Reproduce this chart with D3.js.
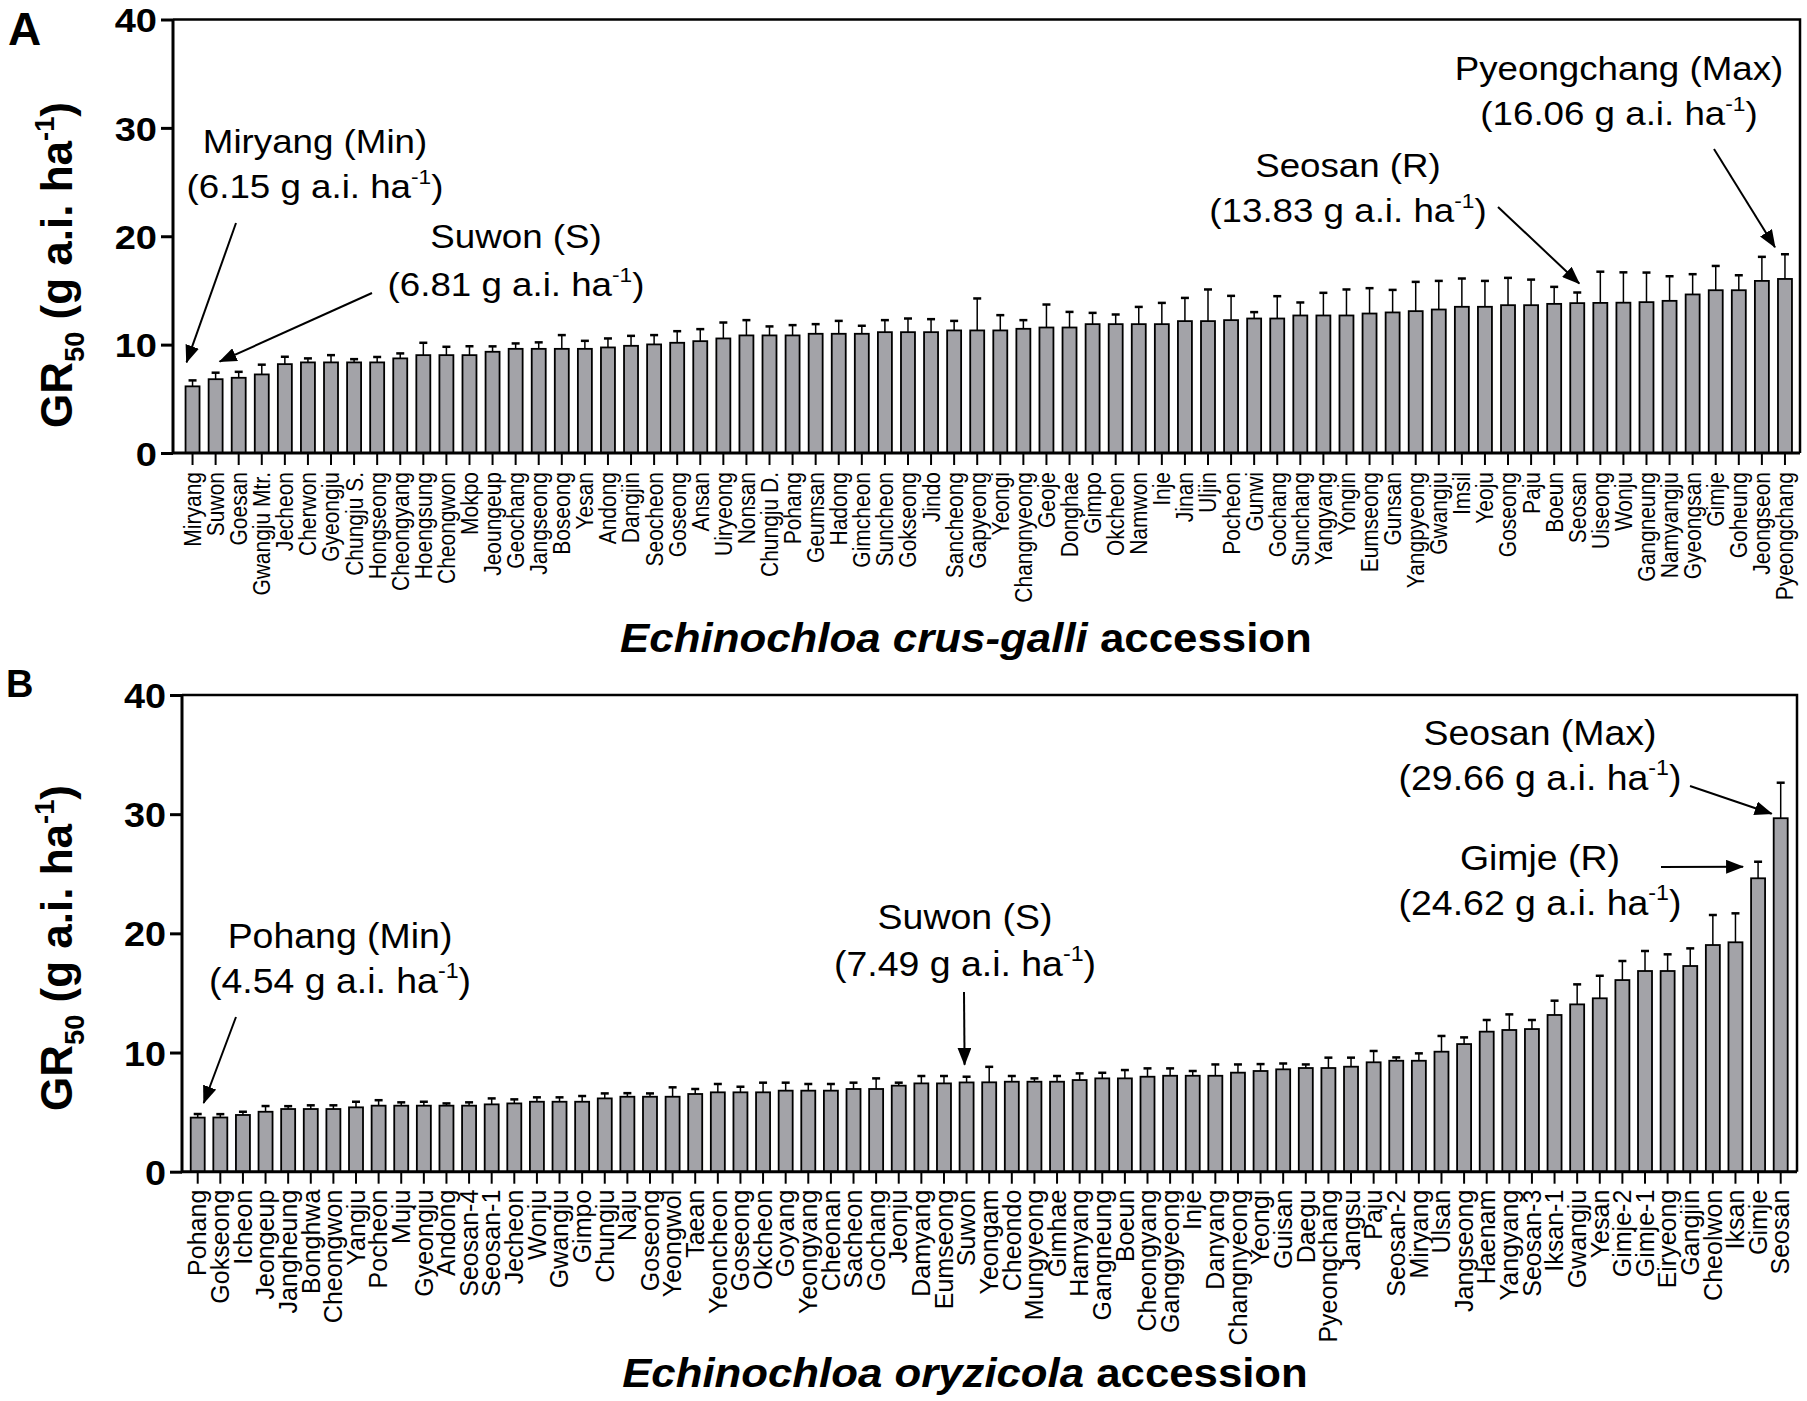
<!DOCTYPE html>
<html>
<head>
<meta charset="utf-8">
<script src="https://cdn.jsdelivr.net/npm/d3@7"></script>
<style>
  body { margin: 0; background: #fff; }
  text { font-family: "Liberation Sans", Arial, Helvetica, sans-serif; fill: #000; }
</style>
</head>
<body>
<svg id="chart" width="1807" height="1401"></svg>
<script>
// ---- data ----
var labelsA = ["Miryang","Suwon","Goesan","Gwangju Mtr.","Jecheon","Cherwon","Gyeongju","Chungju S.","Hongseong","Cheongyang",
  "Hoengsung","Cheongwon","Mokpo","Jeoungeup","Geochang","Jangseong","Boseong","Yesan","Andong","Dangjin",
  "Seocheon","Goseong","Ansan","Uiryeong","Nonsan","Chungju D.","Pohang","Geumsan","Hadong","Gimcheon",
  "Suncheon","Gokseong","Jindo","Sancheong","Gapyeong","Yeongi","Changnyeong","Geoje","Donghae","Gimpo",
  "Okcheon","Namwon","Inje","Jinan","Uljin","Pocheon","Gunwi","Gochang","Sunchang","Yangyang",
  "Yongin","Eumseong","Gunsan","Yangpyeong","Gwangju","Imsil","Yeoju","Goseong","Paju","Boeun",
  "Seosan","Uiseong","Wonju","Gangneung","Namyangju","Gyeongsan","Gimje","Goheung","Jeongseon","Pyeongchang"];
var valuesA = [6.15,6.81,6.94,7.25,8.20,8.36,8.36,8.36,8.36,8.73,
  9.03,9.03,9.03,9.34,9.61,9.61,9.61,9.61,9.74,9.89,
  10.02,10.17,10.32,10.57,10.85,10.85,10.85,11.00,11.00,11.00,
  11.15,11.15,11.15,11.31,11.31,11.31,11.46,11.58,11.58,11.89,
  11.89,11.89,11.89,12.17,12.17,12.26,12.41,12.41,12.69,12.69,
  12.69,12.87,12.97,13.09,13.24,13.49,13.49,13.64,13.64,13.76,
  13.83,13.85,13.87,13.92,14.04,14.63,15.02,15.02,15.88,16.06];
var errorsA = [0.55,0.60,0.55,0.90,0.68,0.37,0.67,0.30,0.50,0.46,
  1.14,0.77,0.82,0.50,0.50,0.60,1.27,0.74,0.83,0.92,
  0.86,1.07,1.11,1.47,1.41,0.83,0.95,0.89,1.19,0.74,
  1.11,1.26,1.20,0.88,2.95,1.41,0.80,2.12,1.44,1.04,
  0.89,1.59,1.96,2.14,2.92,2.24,0.59,2.06,1.20,2.09,
  2.40,2.34,2.08,2.70,2.64,2.61,2.39,2.52,2.36,1.57,
  0.98,2.88,2.80,2.73,2.27,1.87,2.24,1.38,2.22,2.28];

var labelsB = ["Pohang","Gokseong","Icheon","Jeongeup","Jangheung","Bonghwa","Cheongwon","Yangju","Pocheon","Muju",
  "Gyeongju","Andong","Seosan-4","Seosan-1","Jecheon","Wonju","Gwangju","Gimpo","Chungju","Naju",
  "Goseong","Yeongwol","Taean","Yeoncheon","Goseong","Okcheon","Goyang","Yeongyang","Cheonan","Sacheon",
  "Gochang","Jeonju","Damyang","Eumseong","Suwon","Yeongam","Cheondo","Mungyeong","Gimhae","Hamyang",
  "Gangneung","Boeun","Cheongyang","Ganggyeong","Inje","Danyang","Changnyeong","Yeongi","Guisan","Daegu",
  "Pyeongchang","Jangsu","Paju","Seosan-2","Miryang","Ulsan","Jangseong","Haenam","Yangyang","Seosan-3",
  "Iksan-1","Gwangju","Yesan","Gimje-2","Gimje-1","Eiryeong","Gangjin","Cheolwon","Iksan","Gimje",
  "Seosan"];
var valuesB = [4.54,4.55,4.76,5.03,5.26,5.26,5.26,5.40,5.54,5.54,
  5.54,5.54,5.54,5.65,5.73,5.87,5.87,5.87,6.15,6.29,
  6.29,6.29,6.52,6.66,6.66,6.66,6.80,6.80,6.80,6.94,
  6.94,7.22,7.41,7.41,7.49,7.50,7.55,7.55,7.55,7.69,
  7.83,7.83,7.97,8.05,8.05,8.05,8.31,8.45,8.59,8.70,
  8.70,8.81,9.18,9.31,9.31,10.07,10.71,11.75,11.89,11.97,
  13.15,14.04,14.55,16.08,16.84,16.84,17.26,19.02,19.25,24.62,
  29.66];
var errorsB = [0.30,0.28,0.27,0.48,0.24,0.31,0.31,0.47,0.46,0.28,
  0.33,0.19,0.28,0.50,0.34,0.37,0.37,0.48,0.42,0.30,
  0.28,0.79,0.42,0.70,0.47,0.81,0.67,0.56,0.56,0.53,
  0.89,0.25,0.62,0.62,0.48,1.30,0.48,0.28,0.48,0.56,
  0.47,0.70,0.70,0.62,0.40,0.95,0.69,0.58,0.49,0.30,
  0.87,0.76,0.95,0.28,0.62,1.32,0.56,0.98,1.31,0.76,
  1.20,1.68,1.89,1.60,1.68,1.40,1.48,2.52,2.43,1.39,
  2.98];

var yTicks = [0, 10, 20, 30, 40];

// annotated accessions: bar index, caption, GR50 value
var notesA = [
  {idx: 0,  title: "Miryang (Min)",     value: "6.15"},
  {idx: 1,  title: "Suwon (S)",         value: "6.81"},
  {idx: 60, title: "Seosan (R)",        value: "13.83"},
  {idx: 69, title: "Pyeongchang (Max)", value: "16.06"}
];
var notesB = [
  {idx: 0,  title: "Pohang (Min)", value: "4.54"},
  {idx: 34, title: "Suwon (S)",    value: "7.49"},
  {idx: 70, title: "Seosan (Max)", value: "29.66"},
  {idx: 69, title: "Gimje (R)",    value: "24.62"}
];

// ---- layout ----
var svg = d3.select("#chart");
var barFill = "#a3a3a8";

var defs = svg.append("defs");
defs.append("marker")
    .attr("id", "head")
    .attr("markerUnits", "userSpaceOnUse")
    .attr("viewBox", "0 0 18 14")
    .attr("markerWidth", 18).attr("markerHeight", 14)
    .attr("refX", 17).attr("refY", 7)
    .attr("orient", "auto")
  .append("path")
    .attr("d", "M0,0 L18,7 L0,14 Z")
    .attr("fill", "#000");

var panelA = {
  letter: "A", letterX: 8, letterY: 45, letterSize: 46,
  left: 173, right: 1800, top: 19.5, bottom: 453,
  bandL: 181, bandR: 1796.5, pad: 0.394,
  tickFont: 34, tickK: 1.12, labelFont: 21, labelK: 1.15, labelGap: 19,
  yTitleX: 72, yTitleY: 265,
  species: "Echinochloa crus-galli", xTitleX: 966, xTitleY: 652, xTitleW: 692,
  noteFont: 34, noteK: 1.08,
  // caption centre, two baselines, arrow start and tip offset from the error bar top
  place: [
    {cx: 315,  b1: 153, b2: 198, from: [236, 223],  tip: [-6, -18]},
    {cx: 516,  b1: 248, b2: 296, from: [372, 293],  tip: [4, -11]},
    {cx: 1348, b1: 177, b2: 222, from: [1498, 207], tip: [2, -9]},
    {cx: 1619, b1: 80,  b2: 125, from: [1714, 149], tip: [-10, -7]}
  ]
};
var panelB = {
  letter: "B", letterX: 6, letterY: 697, letterSize: 38,
  left: 182, right: 1797, top: 695, bottom: 1171.7,
  bandL: 186.4, bandR: 1792, pad: 0.381,
  tickFont: 35, tickK: 1.08, labelFont: 25, labelK: 1, labelGap: 18,
  yTitleX: 72, yTitleY: 948,
  species: "Echinochloa oryzicola", xTitleX: 965, xTitleY: 1387, xTitleW: 686,
  noteFont: 35, noteK: 1.07,
  place: [
    {cx: 340,  b1: 948, b2: 993, from: [236, 1017],  tip: [6, -11]},
    {cx: 965,  b1: 929, b2: 976, from: [964, 992],   tip: [-2, -12]},
    {cx: 1540, b1: 745, b2: 790, from: [1690, 786],  tip: [-9, 31]},
    {cx: 1540, b1: 870, b2: 915, from: [1661, 867],  tip: [-15, 5]}
  ]
};

function drawPanel(cfg, labels, values, errors, notes) {
  var g = svg.append("g");
  var idx = d3.range(labels.length);

  var x = d3.scaleBand()
      .domain(idx)
      .range([cfg.bandL, cfg.bandR])
      .paddingInner(cfg.pad)
      .paddingOuter(cfg.pad / 2);
  var y = d3.scaleLinear()
      .domain([0, 40])
      .range([cfg.bottom, cfg.top]);
  var bw = x.bandwidth();
  var xc = function(i) { return x(i) + bw / 2; };

  // bars
  g.append("g").selectAll("rect")
      .data(idx)
      .enter().append("rect")
      .attr("x", function(i) { return x(i); })
      .attr("y", function(i) { return y(values[i]); })
      .attr("width", bw)
      .attr("height", function(i) { return y(0) - y(values[i]); })
      .attr("fill", barFill)
      .attr("stroke", "#000")
      .attr("stroke-width", 1.8);

  // upper error bars
  var eb = g.append("g").attr("stroke", "#000");
  eb.selectAll(".stem")
      .data(idx)
      .enter().append("line")
      .attr("x1", xc).attr("x2", xc)
      .attr("y1", function(i) { return y(values[i]); })
      .attr("y2", function(i) { return y(values[i] + errors[i]); })
      .attr("stroke-width", 1.5);
  eb.selectAll(".cap")
      .data(idx)
      .enter().append("line")
      .attr("x1", function(i) { return xc(i) - 4; })
      .attr("x2", function(i) { return xc(i) + 4; })
      .attr("y1", function(i) { return y(values[i] + errors[i]); })
      .attr("y2", function(i) { return y(values[i] + errors[i]); })
      .attr("stroke-width", 2.5);

  // frame top and right
  g.append("path")
      .attr("d", "M" + cfg.left + "," + cfg.top + "H" + cfg.right + "V" + cfg.bottom)
      .attr("fill", "none")
      .attr("stroke", "#000")
      .attr("stroke-width", 2.5);

  // y axis
  var yAxis = g.append("g")
      .attr("transform", "translate(" + cfg.left + ",0)")
      .call(d3.axisLeft(y).tickValues(yTicks).tickSize(12).tickSizeOuter(0));
  yAxis.select(".domain").remove();
  yAxis.selectAll(".tick line").attr("stroke-width", 3);
  yAxis.selectAll(".tick text")
      .attr("x", null)
      .attr("dy", "0.36em")
      .attr("text-anchor", "end")
      .attr("transform", "translate(-16,0) scale(" + cfg.tickK + ",1)")
      .style("font-size", cfg.tickFont + "px")
      .style("font-weight", "bold");

  // x axis
  var xAxis = g.append("g")
      .attr("transform", "translate(0," + cfg.bottom + ")")
      .call(d3.axisBottom(x).tickSize(12).tickSizeOuter(0)
        .tickFormat(function(i) { return labels[i]; }));
  xAxis.select(".domain").remove();
  xAxis.selectAll(".tick line").attr("stroke-width", 2);
  xAxis.selectAll(".tick text")
      .attr("x", null).attr("y", null)
      .attr("dy", "0.35em")
      .attr("text-anchor", "end")
      .attr("transform", "translate(0," + cfg.labelGap + ") rotate(-90) scale(1," + cfg.labelK + ")")
      .style("font-size", cfg.labelFont + "px");

  // axis lines
  g.append("path")
      .attr("d", "M" + cfg.left + "," + cfg.top + "V" + cfg.bottom + "H" + cfg.right)
      .attr("fill", "none")
      .attr("stroke", "#000")
      .attr("stroke-width", 3);

  // panel letter
  g.append("text")
      .attr("x", cfg.letterX).attr("y", cfg.letterY)
      .style("font-size", cfg.letterSize + "px")
      .style("font-weight", "bold")
      .text(cfg.letter);

  // y title
  var fs = 44;
  var yt = g.append("text")
      .attr("transform", "translate(" + cfg.yTitleX + "," + cfg.yTitleY + ") rotate(-90)")
      .attr("text-anchor", "middle")
      .style("font-size", fs + "px")
      .style("font-weight", "bold");
  yt.append("tspan").text("GR");
  yt.append("tspan").attr("dy", 0.28 * fs).style("font-size", (0.62 * fs) + "px").text("50");
  yt.append("tspan").attr("dy", -0.28 * fs).text(" (g a.i. ha");
  yt.append("tspan").attr("dy", -0.42 * fs).style("font-size", (0.62 * fs) + "px").text("-1");
  yt.append("tspan").attr("dy", 0.42 * fs).text(")");

  // x title, stretched to the figure's width
  var xt = g.append("text")
      .attr("text-anchor", "middle")
      .style("font-size", "40px")
      .style("font-weight", "bold");
  xt.append("tspan").style("font-style", "italic").text(cfg.species);
  xt.append("tspan").text(" accession");
  var len = xt.node().getComputedTextLength();
  xt.attr("transform", "translate(" + cfg.xTitleX + "," + cfg.xTitleY + ") scale(" + (cfg.xTitleW / len) + ",1)");

  // annotations with arrows
  notes.forEach(function(n, k) {
    var p = cfg.place[k];
    var f = cfg.noteFont;
    g.append("text")
        .attr("text-anchor", "middle")
        .attr("transform", "translate(" + p.cx + "," + p.b1 + ") scale(" + cfg.noteK + ",1)")
        .style("font-size", f + "px")
        .text(n.title);
    var t2 = g.append("text")
        .attr("text-anchor", "middle")
        .attr("transform", "translate(" + p.cx + "," + p.b2 + ") scale(" + cfg.noteK + ",1)")
        .style("font-size", f + "px");
    t2.append("tspan").text("(" + n.value + " g a.i. ha");
    t2.append("tspan").attr("dy", -0.42 * f).style("font-size", (0.62 * f) + "px").text("-1");
    t2.append("tspan").attr("dy", 0.42 * f).text(")");

    var tx = xc(n.idx) + p.tip[0];
    var ty = y(values[n.idx] + errors[n.idx]) + p.tip[1];
    g.append("line")
        .attr("x1", p.from[0]).attr("y1", p.from[1])
        .attr("x2", tx).attr("y2", ty)
        .attr("stroke", "#000")
        .attr("stroke-width", 2)
        .attr("marker-end", "url(#head)");
  });
}

drawPanel(panelA, labelsA, valuesA, errorsA, notesA);
drawPanel(panelB, labelsB, valuesB, errorsB, notesB);
</script>
</body>
</html>
